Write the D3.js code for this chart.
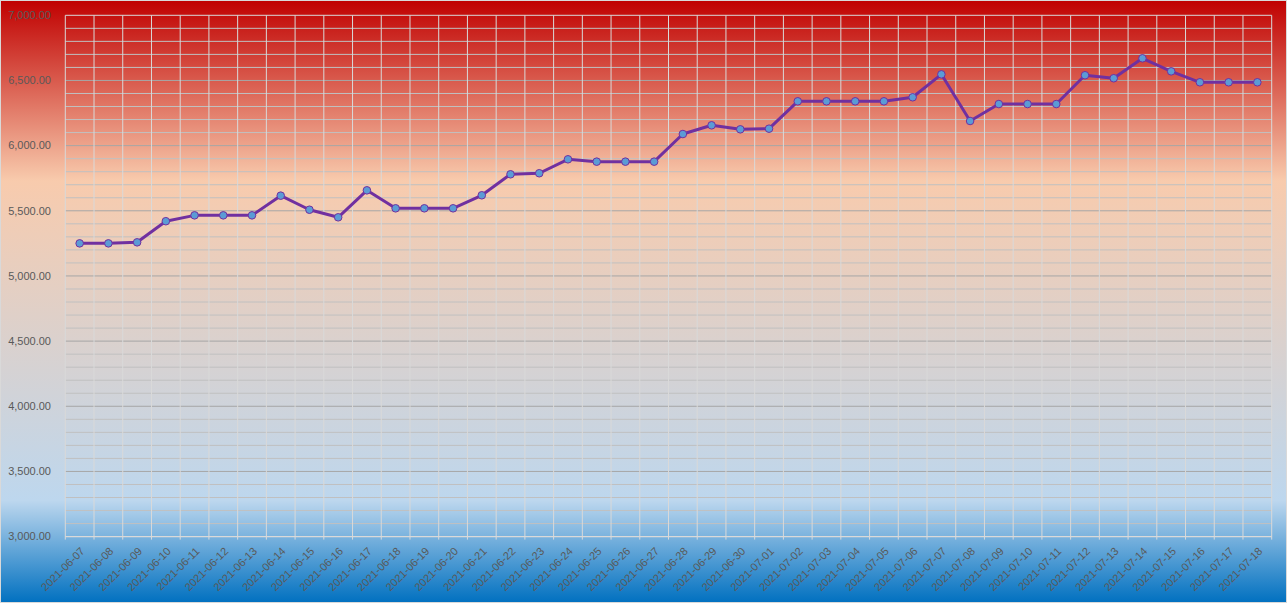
<!DOCTYPE html>
<html>
<head>
<meta charset="utf-8">
<script src="https://cdn.jsdelivr.net/npm/d3@7"></script>
<style>
  html, body { margin: 0; padding: 0; background: #fff; }
  svg { display: block; }
  text { font-family: "Liberation Sans", Arial, sans-serif; }
</style>
</head>
<body>
<svg id="chart" width="1287" height="603"></svg>
<script>
const dates = [
  "2021-06-07","2021-06-08","2021-06-09","2021-06-10","2021-06-11","2021-06-12","2021-06-13",
  "2021-06-14","2021-06-15","2021-06-16","2021-06-17","2021-06-18","2021-06-19","2021-06-20",
  "2021-06-21","2021-06-22","2021-06-23","2021-06-24","2021-06-25","2021-06-26","2021-06-27",
  "2021-06-28","2021-06-29","2021-06-30","2021-07-01","2021-07-02","2021-07-03","2021-07-04",
  "2021-07-05","2021-07-06","2021-07-07","2021-07-08","2021-07-09","2021-07-10","2021-07-11",
  "2021-07-12","2021-07-13","2021-07-14","2021-07-15","2021-07-16","2021-07-17","2021-07-18"
];
const prices = [
  5250, 5250, 5258, 5420, 5465, 5465, 5465,
  5616, 5508, 5450, 5657, 5519, 5519, 5519,
  5619, 5780, 5788, 5895, 5877, 5877, 5877,
  6089, 6156, 6125, 6130, 6340, 6340, 6340,
  6340, 6371, 6547, 6189, 6319, 6319, 6319,
  6540, 6517, 6670, 6570, 6486, 6486, 6486
];
const yTickValues = [3000, 3500, 4000, 4500, 5000, 5500, 6000, 6500, 7000];
const yMinorStep = 100;

const W = 1287, H = 603;
const pLeft = 65.3, pRight = 1271.7, pTop = 15.3, pBottom = 536.6;

const svg = d3.select("#chart");
const defs = svg.append("defs");
const grad = defs.append("linearGradient").attr("id", "bg")
  .attr("x1", 0).attr("y1", 0).attr("x2", 0).attr("y2", 1);
[[0, "#c00000"], [0.30, "#f8cbad"], [0.83, "#bdd7ee"], [1, "#0070c0"]].forEach(([o, c]) =>
  grad.append("stop").attr("offset", o).attr("stop-color", c));

svg.append("rect").attr("x", 0).attr("y", 0).attr("width", W).attr("height", H)
  .attr("fill", "url(#bg)");
svg.append("rect").attr("x", 0.5).attr("y", 0.5).attr("width", W - 1).attr("height", H - 1)
  .attr("fill", "none").attr("stroke", "#d9d9d9").attr("stroke-width", 1);

const x = d3.scaleBand().domain(dates).range([pLeft, pRight]).padding(0);
const y = d3.scaleLinear().domain([3000, 7000]).range([pBottom, pTop]);

// minor horizontal gridlines
const minor = d3.range(3000, 7000 + 1, yMinorStep).filter(v => v % 500 !== 0);
svg.append("g").selectAll("line").data(minor).join("line")
  .attr("x1", pLeft).attr("x2", pRight)
  .attr("y1", d => y(d)).attr("y2", d => y(d))
  .attr("stroke", "#c0c0c0").attr("stroke-width", 1);

// major horizontal gridlines
svg.append("g").selectAll("line").data(yTickValues.filter(v => v !== 3000 && v !== 7000)).join("line")
  .attr("x1", pLeft).attr("x2", pRight)
  .attr("y1", d => y(d)).attr("y2", d => y(d))
  .attr("stroke", "#a6a6a6").attr("stroke-width", 1);

// vertical gridlines at category boundaries
const bounds = dates.map(d => x(d)).concat([x(dates[dates.length - 1]) + x.bandwidth()]);
svg.append("g").selectAll("line").data(bounds).join("line")
  .attr("x1", d => d).attr("x2", d => d)
  .attr("y1", pTop).attr("y2", pBottom + 3)
  .attr("stroke", "#d9d9d9").attr("stroke-width", 1);

// top border and bottom axis
svg.append("line").attr("x1", pLeft).attr("x2", pRight).attr("y1", pTop).attr("y2", pTop)
  .attr("stroke", "#d9d9d9");
svg.append("line").attr("x1", pLeft).attr("x2", pRight).attr("y1", pBottom).attr("y2", pBottom)
  .attr("stroke", "#d9d9d9").attr("stroke-width", 1.2);

// y labels
svg.append("g").selectAll("text").data(yTickValues).join("text")
  .attr("x", 51).attr("y", d => y(d)).attr("dy", "0.35em")
  .attr("text-anchor", "end").attr("font-size", 11).attr("fill", "#595959")
  .text(d => d3.format(",.2f")(d));

// x labels
svg.append("g").selectAll("text").data(dates).join("text")
  .attr("transform", d => `translate(${x(d) + x.bandwidth() / 2 + 3},${pBottom + 12.5}) rotate(-45)`)
  .attr("dy", "0.35em")
  .attr("text-anchor", "end").attr("font-size", 11).attr("fill", "#595959")
  .text(d => d);

// line
const line = d3.line()
  .x((d, i) => x(dates[i]) + x.bandwidth() / 2)
  .y(d => y(d));
svg.append("path").datum(prices)
  .attr("d", line).attr("fill", "none")
  .attr("stroke", "#7030a0").attr("stroke-width", 3)
  .attr("stroke-linejoin", "round").attr("stroke-linecap", "round");

// markers
svg.append("g").selectAll("circle").data(prices).join("circle")
  .attr("cx", (d, i) => x(dates[i]) + x.bandwidth() / 2)
  .attr("cy", d => y(d))
  .attr("r", 3.8)
  .attr("fill", "#5b9bd5").attr("stroke", "#7030a0").attr("stroke-width", 1);
</script>
</body>
</html>
